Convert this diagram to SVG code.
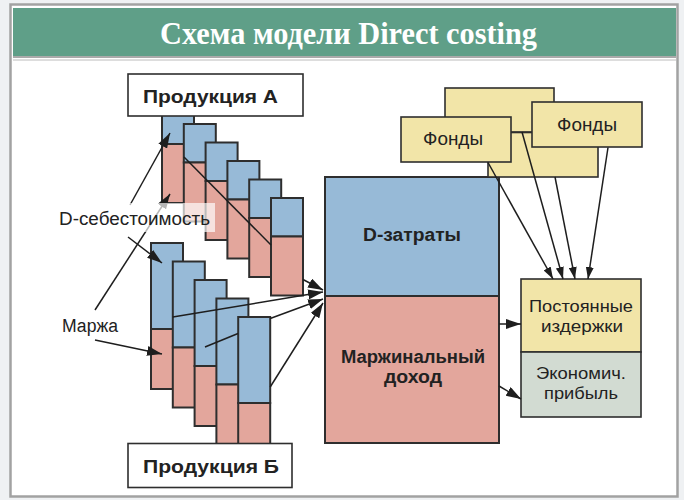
<svg xmlns="http://www.w3.org/2000/svg" width="684" height="500" viewBox="0 0 684 500">
  <style>
    .blue { fill: #97bad7; stroke: #2e2e2e; stroke-width: 2; }
    .pink { fill: #e3a69c; stroke: #2e2e2e; stroke-width: 2; }
    .fond { fill: #f2e5a8; stroke: #2e2e2e; stroke-width: 1.6; }
    .prod { fill: #ffffff; stroke: #2e2e2e; stroke-width: 1.6; }
    .bold { font-family: "Liberation Sans", Arial, sans-serif; font-weight: bold; font-size: 18px; fill: #222; }
    .reg { font-family: "Liberation Sans", Arial, sans-serif; font-size: 18px; fill: #222; }
    .small { font-size: 17px; }
    .ln { stroke: #1e1e1e; stroke-width: 1.5; fill: none; }
    .arr { marker-end: url(#ah); }
    .arr2 { marker-end: url(#ah2); }
  </style>
  <defs>
    <marker id="ah" viewBox="0 0 15 10" refX="15" refY="5" markerWidth="15" markerHeight="10" markerUnits="userSpaceOnUse" orient="auto">
      <path d="M0,0 L15,5 L0,10 z" fill="#1e1e1e"/>
    </marker>
    <marker id="ah2" viewBox="0 0 12 8" refX="12" refY="4" markerWidth="12" markerHeight="8" markerUnits="userSpaceOnUse" orient="auto">
      <path d="M0,0 L12,4 L0,8 z" fill="#1e1e1e"/>
    </marker>
  </defs>

  <!-- page frame and header -->
  <rect x="0" y="0" width="684" height="500" fill="#eff1f3"/>
  <rect x="10.5" y="4.5" width="667" height="492" fill="#ffffff" stroke="#a2a2a2" stroke-width="2.5"/>
  <rect x="13" y="8" width="663" height="48" fill="#5f9f88"/>
  <line x1="13" y1="57" x2="676" y2="57" stroke="#8e8e8e" stroke-width="1.5"/>
  <line x1="13" y1="60" x2="676" y2="60" stroke="#bcbcbc" stroke-width="1"/>
  <text x="160" y="44" font-family="'Liberation Serif', 'Times New Roman', serif" font-weight="bold" font-size="32" fill="#ffffff" textLength="377" lengthAdjust="spacingAndGlyphs">Схема модели Direct costing</text>

  <!-- product A stack -->
  <g id="prodA-bars">
    <rect class="blue" x="162" y="105.5" width="32" height="38.5"/><rect class="pink" x="162" y="144" width="32" height="59"/>
    <rect class="blue" x="183.8" y="124" width="32" height="38.5"/><rect class="pink" x="183.8" y="162.5" width="32" height="59"/>
    <rect class="blue" x="205.6" y="142.5" width="32" height="38.5"/><rect class="pink" x="205.6" y="181" width="32" height="59"/>
    <rect class="blue" x="227.4" y="161" width="32" height="38.5"/><rect class="pink" x="227.4" y="199.5" width="32" height="59"/>
    <rect class="blue" x="249.2" y="179.5" width="32" height="38.5"/><rect class="pink" x="249.2" y="218" width="32" height="59"/>
    <rect class="blue" x="271" y="198" width="32" height="38.5"/><rect class="pink" x="271" y="236.5" width="32" height="59"/>
  </g>
  <g id="prodA">
    <rect class="prod" x="128" y="74" width="175" height="42"/>
    <text class="bold" x="143" y="103" font-size="19.5" textLength="135" lengthAdjust="spacingAndGlyphs">Продукция А</text>
  </g>

  <!-- product B stack -->
  <g id="prodB-bars">
    <rect class="blue" x="151" y="243" width="32" height="86"/><rect class="pink" x="151" y="329" width="32" height="60"/>
    <rect class="blue" x="172.8" y="261.5" width="32" height="86"/><rect class="pink" x="172.8" y="347.5" width="32" height="60"/>
    <rect class="blue" x="194.6" y="280" width="32" height="86"/><rect class="pink" x="194.6" y="366" width="32" height="60"/>
    <rect class="blue" x="216.4" y="298.5" width="32" height="86"/><rect class="pink" x="216.4" y="384.5" width="32" height="60"/>
    <rect class="blue" x="238.2" y="317" width="32" height="86"/><rect class="pink" x="238.2" y="403" width="32" height="60"/>
  </g>
  <g id="prodB">
    <rect class="prod" x="128" y="443.5" width="164" height="44"/>
    <text class="bold" x="143" y="473" font-size="19.5" textLength="136" lengthAdjust="spacingAndGlyphs">Продукция Б</text>
  </g>

  <!-- cost / revenue block -->
  <g id="total">
    <rect class="blue" x="325" y="177" width="174" height="119"/>
    <rect class="pink" x="325" y="296" width="174" height="147"/>
    <text class="bold" x="412" y="241" text-anchor="middle" textLength="98" lengthAdjust="spacingAndGlyphs">D-затраты</text>
    <text class="bold" x="413" y="363" text-anchor="middle" textLength="144" lengthAdjust="spacingAndGlyphs">Маржинальный</text>
    <text class="bold" x="413" y="383" text-anchor="middle" textLength="58" lengthAdjust="spacingAndGlyphs">доход</text>
  </g>

  <!-- funds -->
  <g id="fund-back1"><rect class="fond" x="445" y="88" width="109" height="44"/></g>
  <g id="fund-back2"><rect class="fond" x="488" y="132.5" width="110" height="44.5"/></g>
  <g id="fund-left">
    <rect class="fond" x="401" y="117" width="110" height="45"/>
    <text class="reg" x="453" y="145" text-anchor="middle" textLength="60" lengthAdjust="spacingAndGlyphs">Фонды</text>
  </g>
  <g id="fund-right">
    <rect class="fond" x="532" y="102" width="110" height="45"/>
    <text class="reg" x="587" y="131" text-anchor="middle" textLength="60" lengthAdjust="spacingAndGlyphs">Фонды</text>
  </g>

  <!-- result boxes -->
  <g id="fixed">
    <rect x="521" y="279" width="120" height="73" fill="#f2e5a8" stroke="#2e2e2e" stroke-width="1.6"/>
    <text class="reg small" x="581" y="312" text-anchor="middle" textLength="104" lengthAdjust="spacingAndGlyphs">Постоянные</text>
    <text class="reg small" x="582" y="331.5" text-anchor="middle" textLength="82" lengthAdjust="spacingAndGlyphs">издержки</text>
  </g>
  <g id="profit">
    <rect x="521" y="352" width="120" height="65" fill="#d2dbd2" stroke="#2e2e2e" stroke-width="1.6"/>
    <text class="reg small" x="581" y="379" text-anchor="middle" textLength="90" lengthAdjust="spacingAndGlyphs">Экономич.</text>
    <text class="reg small" x="581" y="398.5" text-anchor="middle" textLength="74" lengthAdjust="spacingAndGlyphs">прибыль</text>
  </g>

  <!-- connectors -->
  <g id="connectors">
    <line class="ln" x1="184" y1="157" x2="271" y2="245"/>
    <line class="ln arr" x1="303" y1="279.5" x2="323" y2="290"/>
    <line class="ln arr" x1="172.8" y1="317" x2="323" y2="292"/>
    <line class="ln" x1="205" y1="347" x2="238" y2="333.5"/>
    <line class="ln arr" x1="270.2" y1="318.5" x2="323" y2="299"/>
    <line class="ln arr" x1="270.2" y1="387" x2="323" y2="303"/>
    <line class="ln arr" x1="499" y1="324" x2="521" y2="324"/>
    <line class="ln arr" x1="499" y1="386" x2="521" y2="399"/>
    <line class="ln arr2" x1="488" y1="162.5" x2="553" y2="279"/>
    <line class="ln arr2" x1="522" y1="132" x2="563" y2="279"/>
    <line class="ln arr2" x1="555" y1="177" x2="575" y2="279"/>
    <line class="ln arr2" x1="608" y1="147.5" x2="588" y2="279"/>
    <line class="ln arr" x1="130" y1="205" x2="170" y2="133"/>
    <line class="ln arr" x1="95" y1="310" x2="170" y2="194"/>
    <line class="ln arr" x1="128" y1="237" x2="162" y2="263"/>
    <line class="ln arr" x1="95" y1="340" x2="162" y2="354"/>
  </g>

  <!-- side labels -->
  <g id="label-cost">
    <rect x="55" y="203" width="160" height="29" fill="#ffffff" fill-opacity="0.68"/>
    <text class="reg" x="59" y="225" textLength="151" lengthAdjust="spacingAndGlyphs">D-себестоимость</text>
  </g>
  <g id="label-margin">
    <text class="reg" x="62" y="332" textLength="56" lengthAdjust="spacingAndGlyphs">Маржа</text>
  </g>
</svg>
